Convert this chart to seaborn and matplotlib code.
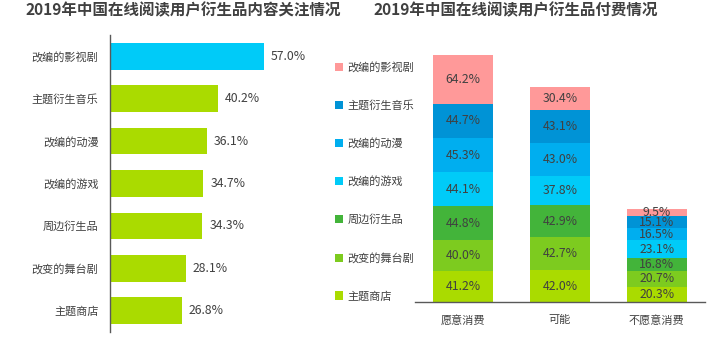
import matplotlib
matplotlib.use("Agg")
import matplotlib.pyplot as plt
import seaborn as sns
import numpy as np

# ---- data ----
left_cats = ['改编的影视剧', '主题衍生音乐', '改编的动漫', '改编的游戏', '周边衍生品', '改变的舞台剧', '主题商店']
left_vals = [57.0, 40.2, 36.1, 34.7, 34.3, 28.1, 26.8]

right_cats = ['愿意消费', '可能', '不愿意消费']
# stacked from bottom to top
series_names = ['主题商店', '改变的舞台剧', '周边衍生品', '改编的游戏', '改编的动漫', '主题衍生音乐', '改编的影视剧']
s_shop = [41.2, 42.0, 20.3]
s_stage = [40.0, 42.7, 20.7]
s_peripheral = [44.8, 42.9, 16.8]
s_game = [44.1, 37.8, 23.1]
s_anime = [45.3, 43.0, 16.5]
s_music = [44.7, 43.1, 15.1]
s_film = [64.2, 30.4, 9.5]
series_vals = [s_shop, s_stage, s_peripheral, s_game, s_anime, s_music, s_film]

title_left = '2019年中国在线阅读用户衍生品内容关注情况'
title_right = '2019年中国在线阅读用户衍生品付费情况'

# ---- style ----
sns.set_theme(style='white')
plt.rcParams['font.family'] = ['Noto Sans CJK SC', 'DejaVu Sans']
TXT = '#404040'
series_colors = ['#AADB00', '#7DCB1F', '#43B43A', '#00CBF8', '#00AEEF', '#0093D6', '#FF9999']
left_colors = ['#00CBF8'] + ['#AADB00'] * 6

fig = plt.figure(figsize=(7.19, 3.38), dpi=100)

# ---- left chart ----
axL = fig.add_axes([109.7 / 719, 6 / 338, 189 / 719, 297 / 338])
sns.barplot(x=left_vals, y=left_cats, hue=left_cats, palette=left_colors, legend=False,
            orient='h', width=0.63, ax=axL, saturation=1, linewidth=0, edgecolor='none')
axL.set_xlim(0, 70)
axL.set_ylim(6.5, -0.5)
for i, v in enumerate(left_vals):
    axL.annotate(f'{v:.1f}%', (v, i), xytext=(5, 0), textcoords='offset points',
                 ha='left', va='center', fontsize=8.8, color=TXT)
for s in ['top', 'right', 'bottom']:
    axL.spines[s].set_visible(False)
axL.spines['left'].set_color('#595959')
axL.spines['left'].set_linewidth(1)
axL.set_xticks([])
axL.set_xlabel('')
axL.set_ylabel('')
axL.tick_params(axis='y', length=0, pad=8, labelsize=8, labelcolor=TXT)

# ---- right chart ----
axR = fig.add_axes([415 / 719, 36 / 338, 290 / 719, 247 / 338])
bottom = np.zeros(len(right_cats))
for name, vals, col in zip(series_names, series_vals, series_colors):
    sns.barplot(x=right_cats, y=vals, bottom=bottom, color=col, width=0.62,
                saturation=1, label=name, ax=axR, linewidth=0, edgecolor='none')
    for i, v in enumerate(vals):
        axR.text(i, bottom[i] + v / 2, f'{v:.1f}%', ha='center', va='center',
                 fontsize=8.8, color=TXT)
    bottom = bottom + np.array(vals)
if axR.get_legend() is not None:
    axR.get_legend().remove()
axR.set_xlim(-0.5, 2.5)
axR.set_ylim(0, 324.3)
for s in ['top', 'right', 'left']:
    axR.spines[s].set_visible(False)
axR.spines['bottom'].set_color('#595959')
axR.spines['bottom'].set_linewidth(1)
axR.set_yticks([])
axR.set_xlabel('')
axR.set_ylabel('')
axR.tick_params(axis='x', length=0, pad=9, labelsize=8, labelcolor=TXT)

handles, labels = axR.get_legend_handles_labels()
leg = fig.legend(handles[::-1], labels[::-1], loc='upper left',
                 bbox_to_anchor=(335 / 719, 1 - 61.5 / 338), frameon=False,
                 fontsize=8, handlelength=0.75, handleheight=0.75, handletextpad=0.35,
                 labelspacing=2.46, borderpad=0, borderaxespad=0)
for t in leg.get_texts():
    t.set_color(TXT)

# ---- titles ----
fig.text(25 / 719, 1 - 10 / 338, title_left, ha='left', va='center', fontsize=11.2,
         fontweight='bold', color=TXT)
fig.text(373 / 719, 1 - 10 / 338, title_right, ha='left', va='center', fontsize=11.2,
         fontweight='bold', color=TXT)

fig.savefig('out.png', dpi=100)
